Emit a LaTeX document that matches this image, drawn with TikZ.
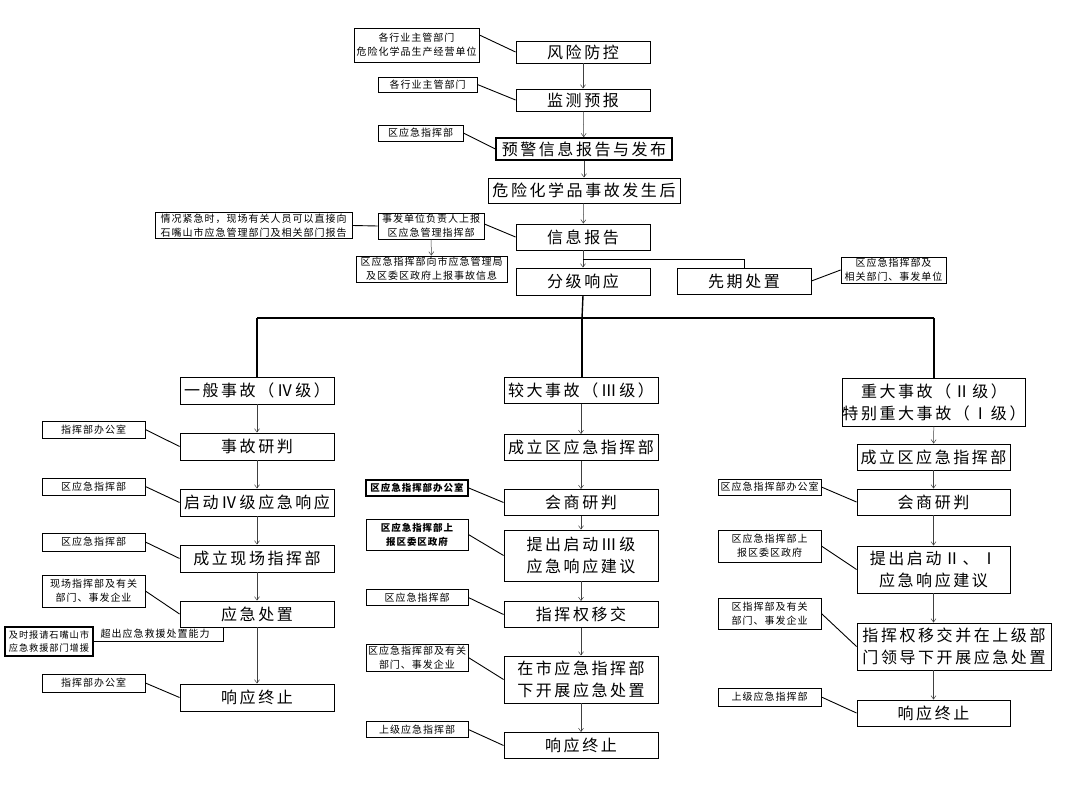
\documentclass[tikz,border=0pt]{standalone}
\usepackage{fontspec}
\setmainfont{Noto Sans CJK SC}
\newfontfamily\mfont[LetterSpace=16]{Noto Sans CJK SC}
\newfontfamily\lfont[LetterSpace=10]{Noto Sans CJK SC}
\usetikzlibrary{arrows.meta}
\tikzset{
  mbox/.style={draw, line width=0.9pt, inner sep=0pt, align=center, font=\mfont\fontsize{16}{22}\selectfont},
  lbox/.style={draw, line width=0.8pt, inner sep=0pt, align=center, font=\lfont\fontsize{10}{14}\selectfont},
  sz/.style 2 args={minimum width=#1pt, minimum height=#2pt},
  thickbox/.style={line width=1.5pt},
  conn/.style={line width=0.9pt},
  arr/.style={line width=0.5pt, draw=black!75, -{Straight Barb[length=3.5pt,width=5pt]}},
  tree/.style={line width=1.4pt},
  plain/.style={inner sep=0pt, font=\lfont\fontsize{10}{14}\selectfont},
}
\begin{document}
\begin{tikzpicture}[x=1pt,y=-1pt]
\fill[white] (0,0) rectangle (1079,786);
\useasboundingbox (0,0) rectangle (1079,786);

% ---------- top column ----------
\node[mbox,sz={134}{22}] (n1) at (583,52) {风险防控};
\node[lbox,sz={125}{34}] (l1) at (416.5,45) {各行业主管部门\\危险化学品生产经营单位};
\node[mbox,sz={134}{22}] (n2) at (583,100) {监测预报};
\node[lbox,sz={99}{15}] (l2) at (427.5,84.5) {各行业主管部门};
\node[mbox,thickbox,sz={176}{22}] (n3) at (584,149) {预警信息报告与发布};
\node[lbox,sz={85}{16}] (l3) at (420.5,133) {区应急指挥部};
\node[mbox,sz={192}{25}] (n4) at (584,190.5) {危险化学品事故发生后};
\node[mbox,sz={134}{26}] (n5) at (583,237) {信息报告};
\node[lbox,sz={106}{26}] (l4) at (431,226) {事发单位负责人上报\\区应急管理指挥部};
\node[lbox,sz={197}{26}] (l5) at (253.5,225.5) {情况紧急时，现场有关人员可以直接向\\石嘴山市应急管理部门及相关部门报告};
\node[lbox,sz={151}{26}] (l6) at (431.5,269) {区应急指挥部向市应急管理局\\及区委区政府上报事故信息};
\node[mbox,sz={134}{27}] (n6) at (583,281.5) {分级响应};
\node[mbox,sz={134}{26}] (n7) at (744,281) {先期处置};
\node[lbox,sz={105}{26}] (l7) at (893.5,270) {区应急指挥部及\\相关部门、事发单位};
\coordinate (j1) at (583,259);

\draw[arr] (n1) -- (n2);
\draw[arr] (n2) -- (n3);
\draw[arr] (n3) -- (n4);
\draw[arr] (n4) -- (n5);
\draw[arr] (n5) -- (n6);
\draw[line width=0.9pt] (j1) -| (n7.north);
\draw[arr] (l4) -- (l6);
\draw[conn] ([yshift=10pt]l1.east) -- (n1.west);
\draw[conn] (l2.east) -- (n2.west);
\draw[conn] (l3.east) -- (n3.west);
\draw[conn] ([yshift=2pt]l4.east) -- (n5.west);
\draw[conn] (l5.east) -- (l4.west);
\draw[conn] (n7.east) -- (l7.west);

% ---------- tree ----------
\coordinate (t0) at (582,318);
\coordinate (tl) at (257,318);
\coordinate (tr) at (934,318);
\draw[tree] (n6.south) -- (t0);
\draw[tree] (tl) -- (tr);

% ---------- left column ----------
\node[mbox,sz={154}{27}] (h1) at (257,390.5) {一般事故（Ⅳ级）};
\node[mbox,sz={154}{27}] (a1) at (257,446.5) {事故研判};
\node[lbox,sz={103}{17}] (la1) at (93.5,429.5) {指挥部办公室};
\node[mbox,sz={154}{27}] (a2) at (257,502.5) {启动Ⅳ级应急响应};
\node[lbox,sz={103}{17}] (la2) at (93.5,486.5) {区应急指挥部};
\node[mbox,sz={154}{27}] (a3) at (257,558.5) {成立现场指挥部};
\node[lbox,sz={103}{18}] (la3) at (93.5,542) {区应急指挥部};
\node[mbox,sz={154}{26}] (a4) at (257,614) {应急处置};
\node[lbox,sz={103}{32}] (la4) at (93.5,591) {现场指挥部及有关\\部门、事发企业};
\node[lbox,thickbox,sz={88}{29},font=\lfont\fontsize{9.2}{13}\selectfont] (la5) at (49,641.5) {及时报请石嘴山市\\应急救援部门增援};
\node[mbox,sz={154}{27}] (a5) at (257,697.5) {响应终止};
\node[lbox,sz={103}{18}] (la6) at (93.5,683) {指挥部办公室};
\node[plain] (tx) at (155,634) {超出应急救援处置能力};

\draw[tree] (tl) -- (h1.north);
\draw[arr] (h1) -- (a1);
\draw[arr] (a1) -- (a2);
\draw[arr] (a2) -- (a3);
\draw[arr] (a3) -- (a4);
\draw[arr] (a4) -- (a5);
\draw[conn] (la1.east) -- (a1.west);
\draw[conn] (la2.east) -- (a2.west);
\draw[conn] (la3.east) -- (a3.west);
\draw[conn] (la4.east) -- (a4.west);
\draw[conn] (la6.east) -- (a5.west);
\draw[conn] ([xshift=44pt]a4.south west) |- (la5.east);

% ---------- middle column ----------
\node[mbox,sz={154}{26}] (h2) at (581,390.5) {较大事故（Ⅲ级）};
\node[mbox,sz={154}{26}] (b1) at (581,447.5) {成立区应急指挥部};
\node[mbox,sz={154}{26}] (b2) at (581,502.5) {会商研判};
\node[lbox,thickbox,sz={102}{16},font=\lfont\bfseries\fontsize{9.5}{14}\selectfont] (lb1) at (417,488) {区应急指挥部办公室};
\node[mbox,sz={154}{51}] (b3) at (581,555.5) {提出启动Ⅲ级\\应急响应建议};
\node[lbox,sz={102}{31},font=\lfont\bfseries\fontsize{9.5}{14}\selectfont] (lb2) at (417,534.5) {区应急指挥部上\\报区委区政府};
\node[mbox,sz={154}{26}] (b4) at (581,614.5) {指挥权移交};
\node[lbox,sz={102}{16}] (lb3) at (417,597.5) {区应急指挥部};
\node[mbox,sz={154}{47}] (b5) at (581,679.5) {在市应急指挥部\\下开展应急处置};
\node[lbox,sz={102}{27}] (lb4) at (417,657.5) {区应急指挥部及有关\\部门、事发企业};
\node[mbox,sz={154}{26}] (b6) at (581,745.5) {响应终止};
\node[lbox,sz={102}{16}] (lb5) at (417,729.5) {上级应急指挥部};

\draw[tree] (t0) -- (t0 |- h2.north);
\draw[arr] (h2) -- (b1);
\draw[arr] (b1) -- (b2);
\draw[arr] (b2) -- (b3);
\draw[arr] (b3) -- (b4);
\draw[arr] (b4) -- (b5);
\draw[arr] (b5) -- (b6);
\draw[conn] (lb1.east) -- (b2.west);
\draw[conn] (lb2.east) -- (b3.west);
\draw[conn] (lb3.east) -- (b4.west);
\draw[conn] (lb4.east) -- (b5.west);
\draw[conn] (lb5.east) -- (b6.west);

% ---------- right column ----------
\node[mbox,sz={182}{48}] (h3) at (934,402) {重大事故（Ⅱ级）\\特别重大事故（Ⅰ级）};
\node[mbox,sz={153}{26}] (c1) at (933.5,457) {成立区应急指挥部};
\node[mbox,sz={153}{26}] (c2) at (933.5,502) {会商研判};
\node[lbox,sz={103}{16}] (lc1) at (769.5,487) {区应急指挥部办公室};
\node[mbox,sz={153}{47}] (c3) at (933.5,569.5) {提出启动Ⅱ、Ⅰ\\应急响应建议};
\node[lbox,sz={103}{32}] (lc2) at (769.5,546) {区应急指挥部上\\报区委区政府};
\node[mbox,sz={194}{47}] (c4) at (954,646.5) {指挥权移交并在上级部\\门领导下开展应急处置};
\node[lbox,sz={103}{31}] (lc3) at (769.5,613.5) {区指挥部及有关\\部门、事发企业};
\node[mbox,sz={153}{26}] (c5) at (933.5,713) {响应终止};
\node[lbox,sz={103}{18}] (lc4) at (769.5,697) {上级应急指挥部};

\draw[tree] (tr) -- (h3.north);
\draw[arr] (h3) -- (c1);
\draw[arr] (c1) -- (c2);
\draw[arr] (c2) -- (c3);
\draw[arr] (c3.south) -- (c3.south |- c4.north);
\draw[arr] (c3.south |- c4.south) -- (c5.north);
\draw[conn] (lc1.east) -- (c2.west);
\draw[conn] (lc2.east) -- (c3.west);
\draw[conn] (lc3.east) -- (c4.west);
\draw[conn] (lc4.east) -- (c5.west);
\end{tikzpicture}
\end{document}
